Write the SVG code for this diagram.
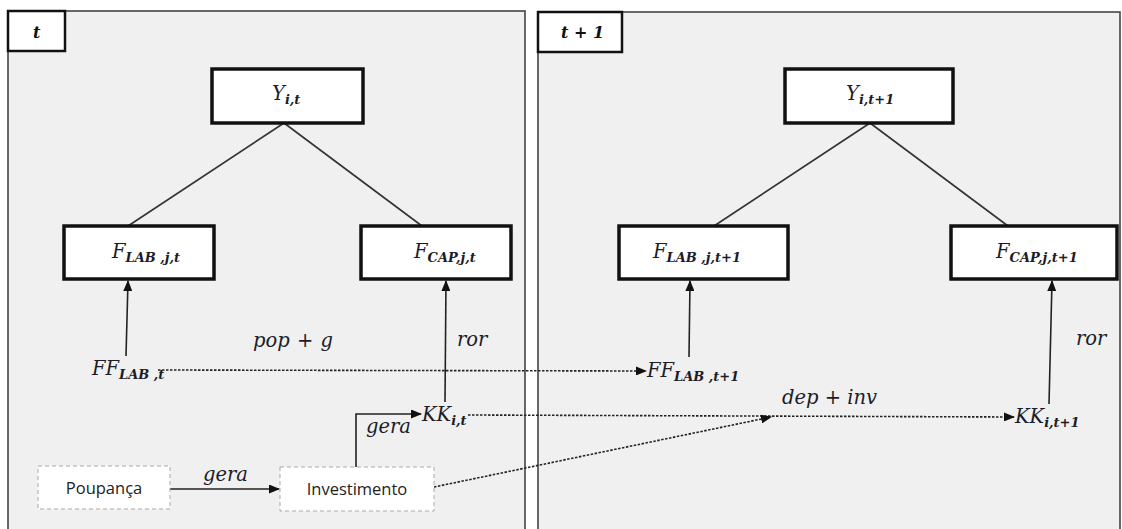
<svg xmlns="http://www.w3.org/2000/svg" width="1122" height="529" viewBox="0 0 1122 529">
  <style>
    .panel { fill: #f0f0f0; stroke: #444; stroke-width: 1.6; }
    .tag { fill: #fff; stroke: #111; stroke-width: 2.5; }
    .box { fill: #fff; stroke: #111; stroke-width: 3.5; }
    .dbox { fill: #fff; stroke: #aaa; stroke-width: 1; stroke-dasharray: 4 3; }
    .m { font-family: "DejaVu Serif", "Liberation Serif", serif; font-style: italic; font-size: 19.5px; fill: #1c1c28; }
    .sub { font-size: 13px; font-weight: 600; }
    .tagt { font-family: "DejaVu Serif", "Liberation Serif", serif; font-style: italic; font-weight: bold; font-size: 16px; fill: #111; }
    .s { font-family: "Open Sans", "Noto Sans", "Liberation Sans", sans-serif; font-size: 16.5px; fill: #222; text-anchor: middle; }
    .tree { stroke: #333; stroke-width: 1.6; fill: none; }
    .arr { stroke: #222; stroke-width: 1.6; fill: none; marker-end: url(#ah); }
    .dot { stroke: #222; stroke-width: 1.6; stroke-dasharray: 2.5 1.5; fill: none; marker-end: url(#ah); }
  </style>
  <defs>
    <marker id="ah" markerUnits="userSpaceOnUse" markerWidth="11" markerHeight="9" refX="10" refY="4.5" orient="auto">
      <path d="M0,0 L11,4.5 L0,9 z" fill="#111"/>
    </marker>
  </defs>
  <rect width="1122" height="529" fill="#fff"/>

  <g id="panel-t">
    <rect class="panel" x="8" y="11" width="517" height="530"/>
    <rect class="tag" x="8" y="11" width="57" height="40"/>
    <text class="tagt" x="33" y="38">t</text>
  </g>
  <g id="panel-t1">
    <rect class="panel" x="538" y="12" width="582" height="530"/>
    <rect class="tag" x="538" y="12" width="84" height="40"/>
    <text class="tagt" x="561" y="38">t + 1</text>
  </g>

  <g id="connectors">
    <path class="tree" d="M284,123 L128,226 M284,123 L422,226"/>
    <path class="tree" d="M870,123 L714,226 M870,123 L1008,226"/>
    <path class="arr" d="M126,356 L128,281"/>
    <path class="arr" d="M445,402 L446,281"/>
    <path class="arr" d="M356,467 V414 H421"/>
    <path class="arr" d="M170,489 H279"/>
    <path class="dot" d="M158,370 L646,371"/>
    <path class="dot" d="M468,415 L1014,417"/>
    <path class="dot" d="M434,487 L771,417"/>
    <path class="arr" d="M689,357 L690,281"/>
    <path class="arr" d="M1049,404 L1052,281"/>
    <text class="m" x="253" y="347" word-spacing="1">pop + g</text>
    <text class="m" x="457" y="346">ror</text>
    <text class="m" x="1076" y="345">ror</text>
    <text class="m" x="782" y="404">dep + inv</text>
    <text class="m" x="366" y="433">gera</text>
    <text class="m" x="203" y="481">gera</text>
  </g>

  <g id="Y-t">
    <rect class="box" x="212" y="69" width="151" height="54"/>
    <text class="m" x="272" y="100">Y<tspan class="sub" dy="4">i,t</tspan></text>
  </g>
  <g id="FLAB-t">
    <rect class="box" x="64" y="226" width="150" height="53"/>
    <text class="m" x="112" y="258">F<tspan class="sub" dy="4">LAB ,j,t</tspan></text>
  </g>
  <g id="FCAP-t">
    <rect class="box" x="361" y="226" width="150" height="53"/>
    <text class="m" x="414" y="258">F<tspan class="sub" dy="4">CAP,j,t</tspan></text>
  </g>
  <g id="FFLAB-t">
    <text class="m" x="92" y="375">FF<tspan class="sub" dy="4">LAB ,t</tspan></text>
  </g>
  <g id="KK-t">
    <text class="m" x="422" y="421">KK<tspan class="sub" dy="4">i,t</tspan></text>
  </g>
  <g id="poupanca">
    <rect class="dbox" x="38" y="466" width="132" height="43"/>
    <text class="s" x="104" y="494">Poupança</text>
  </g>
  <g id="investimento">
    <rect class="dbox" x="280" y="467" width="154" height="44"/>
    <text class="s" x="357" y="495">Investimento</text>
  </g>

  <g id="Y-t1">
    <rect class="box" x="785" y="69" width="168" height="54"/>
    <text class="m" x="846" y="100">Y<tspan class="sub" dy="4">i,t+1</tspan></text>
  </g>
  <g id="FLAB-t1">
    <rect class="box" x="619" y="226" width="169" height="53"/>
    <text class="m" x="653" y="258">F<tspan class="sub" dy="4">LAB ,j,t+1</tspan></text>
  </g>
  <g id="FCAP-t1">
    <rect class="box" x="951" y="226" width="166" height="53"/>
    <text class="m" x="996" y="258">F<tspan class="sub" dy="4">CAP,j,t+1</tspan></text>
  </g>
  <g id="FFLAB-t1">
    <text class="m" x="647" y="377">FF<tspan class="sub" dy="4">LAB ,t+1</tspan></text>
  </g>
  <g id="KK-t1">
    <text class="m" x="1015" y="423">KK<tspan class="sub" dy="4">i,t+1</tspan></text>
  </g>
</svg>
